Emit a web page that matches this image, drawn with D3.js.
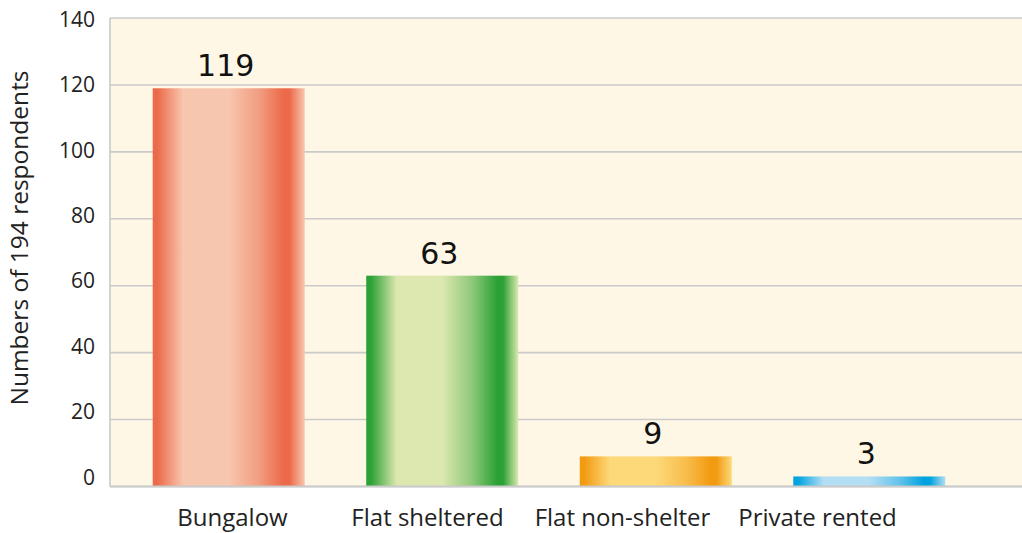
<!DOCTYPE html>
<html>
<head>
<meta charset="utf-8">
<script src="https://cdn.jsdelivr.net/npm/d3@7"></script>
<style>
  html, body { margin: 0; padding: 0; background: #ffffff; }
  svg { display: block; }
</style>
</head>
<body>
<svg id="chart" width="1022" height="533"></svg>
<script>
// Housing type of respondents
const categories = ["Bungalow", "Flat sheltered", "Flat non-shelter", "Private rented"];
const counts = [119, 63, 9, 3];
const yTicks = [0, 20, 40, 60, 80, 100, 120, 140];
const yTitle = "Numbers of 194 respondents";

// dark edge / light core colour for each bar
const darkColors = ["#ec6a4a", "#2ba136", "#f29b12", "#00a3df"];
const lightColors = ["#f7c6ae", "#dce8af", "#fdd97a", "#b3def3"];

const width = 1022, height = 533;
const margin = { left: 110, right: 0, top: 18, bottom: 46 };

const svg = d3.select("#chart");
const defs = svg.append("defs");

const x = d3.scaleBand()
  .domain(categories)
  .range([margin.left, 988])
  .paddingInner(0.288)
  .paddingOuter(0.2);

// category captions sit on a slightly tighter spacing than the bars
const xLabel = d3.scaleBand()
  .domain(categories)
  .range([135, 915]);

const y = d3.scaleLinear()
  .domain([0, 140])
  .range([height - margin.bottom - 0.5, margin.top]);

// tick captions are spread a little tighter than the grid
const yLabel = d3.scaleLinear()
  .domain([0, 140])
  .range([477, 19.5]);

// plot background
svg.append("rect")
  .attr("x", margin.left)
  .attr("y", margin.top)
  .attr("width", width - margin.left)
  .attr("height", y(0) - margin.top)
  .attr("fill", "#fef7e6");

// horizontal grid lines
svg.append("g")
  .selectAll("line")
  .data(yTicks)
  .join("line")
  .attr("x1", margin.left)
  .attr("x2", width)
  .attr("y1", d => y(d))
  .attr("y2", d => y(d))
  .attr("stroke", "#cacaca")
  .attr("stroke-width", 1.6);

// left border
svg.append("line")
  .attr("x1", margin.left).attr("x2", margin.left)
  .attr("y1", margin.top).attr("y2", y(0))
  .attr("stroke", "#cacaca")
  .attr("stroke-width", 1.6);

// cylinder-like horizontal gradients
categories.forEach((c, i) => {
  const g = defs.append("linearGradient")
    .attr("id", "grad" + i)
    .attr("x1", "0%").attr("x2", "100%")
    .attr("y1", "0%").attr("y2", "0%");
  const dark = darkColors[i], light = lightColors[i];
  const stops = [
    [0, dark], [0.03, dark], [0.2, light], [0.5, light],
    [0.7, d3.interpolateRgb(light, dark)(0.45)], [0.86, dark], [0.9, dark], [1, light]
  ];
  stops.forEach(([o, col]) => g.append("stop").attr("offset", o).attr("stop-color", col));
});

// bars
svg.append("g")
  .selectAll("rect")
  .data(counts)
  .join("rect")
  .attr("x", (d, i) => x(categories[i]))
  .attr("width", x.bandwidth())
  .attr("y", d => y(d))
  .attr("height", d => y(0) - y(d))
  .attr("fill", (d, i) => `url(#grad${i})`);

// value labels
svg.append("g")
  .selectAll("text")
  .data(counts)
  .join("text")
  .attr("x", (d, i) => x(categories[i]) + x.bandwidth() / 2 - 3)
  .attr("y", d => y(d) - 12)
  .attr("text-anchor", "middle")
  .attr("font-family", "DejaVu Sans, sans-serif")
  .attr("font-size", 30)
  .attr("fill", "#111")
  .text(d => d);

// y axis tick labels
svg.append("g")
  .selectAll("text")
  .data(yTicks)
  .join("text")
  .attr("x", 95)
  .attr("y", d => yLabel(d))
  .attr("dy", "0.36em")
  .attr("text-anchor", "end")
  .attr("font-family", "Open Sans, sans-serif")
  .attr("font-size", 21)
  .attr("fill", "#222")
  .text(d => d);

// x axis baseline
svg.append("line")
  .attr("x1", margin.left).attr("x2", width)
  .attr("y1", y(0)).attr("y2", y(0))
  .attr("stroke", "#cacaca")
  .attr("stroke-width", 2);

// category captions
svg.append("g")
  .selectAll("text")
  .data(categories)
  .join("text")
  .attr("x", d => xLabel(d) + xLabel.bandwidth() / 2)
  .attr("y", 526)
  .attr("text-anchor", "middle")
  .attr("font-family", "Open Sans, sans-serif")
  .attr("font-size", 24)
  .attr("fill", "#222")
  .text(d => d);

// y axis title
svg.append("text")
  .attr("transform", `translate(28,${238}) rotate(-90)`)
  .attr("text-anchor", "middle")
  .attr("font-family", "Open Sans, sans-serif")
  .attr("font-size", 24.5)
  .attr("fill", "#222")
  .text(yTitle);
</script>
</body>
</html>
